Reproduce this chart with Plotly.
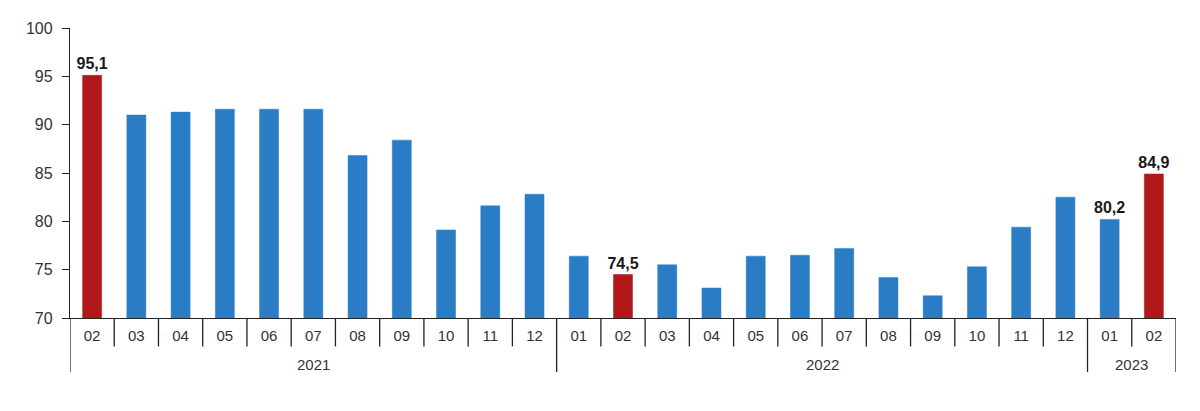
import plotly.graph_objects as go

months = ["02", "03", "04", "05", "06", "07", "08", "09", "10", "11", "12",
          "01", "02", "03", "04", "05", "06", "07", "08", "09", "10", "11", "12",
          "01", "02"]
years = ["2021"] * 11 + ["2022"] * 12 + ["2023"] * 2
values = [95.1, 91.0, 91.3, 91.6, 91.6, 91.6, 86.8, 88.4, 79.1, 81.6, 82.8,
          76.4, 74.5, 75.5, 73.1, 76.4, 76.5, 77.2, 74.2, 72.3, 75.3, 79.4, 82.5,
          80.2, 84.9]
highlight = [0, 12, 24]
labelled = [0, 12, 23, 24]
y_ticks = [70, 75, 80, 85, 90, 95, 100]

BLUE = "#2A7DC4"
RED = "#B0181A"
FONT = "Liberation Sans, Arial, sans-serif"

x = list(range(len(values)))
colors = [RED if i in highlight else BLUE for i in x]
texts = [f"{v:.1f}".replace(".", ",") if i in labelled else "" for i, v in enumerate(values)]

fig = go.Figure()
fig.add_trace(go.Bar(
    x=x, y=values, base=0,
    marker=dict(color=colors, line=dict(color=colors, width=0.5)),
    text=texts, textposition="outside", cliponaxis=False, constraintext="none",
    textfont=dict(family=FONT, size=16, color="#1a1a1a"),
    texttemplate="<b>%{text}</b>",
    width=0.43,
    hoverinfo="skip",
))

# separators
line_style = dict(color="#222222", width=1.3)
n = len(values)
for i in range(n - 1):
    if years[i] != years[i + 1]:
        continue
    fig.add_shape(type="line", xref="x", yref="paper", x0=i + 0.5, x1=i + 0.5,
                  y0=0, y1=-0.098, line=line_style)
boundaries = [-0.5] + [i + 0.5 for i in range(n - 1) if years[i] != years[i + 1]] + [n - 0.5]
for b in boundaries:
    fig.add_shape(type="line", xref="x", yref="paper", x0=b, x1=b,
                  y0=0, y1=-0.186, line=line_style)

# year labels
start = 0
for i in range(1, n + 1):
    if i == n or years[i] != years[start]:
        fig.add_annotation(x=(start + i - 1) / 2, y=-0.16, xref="x", yref="paper",
                           text=years[start], showarrow=False, yanchor="middle",
                           font=dict(family=FONT, size=15, color="#333333"))
        start = i

fig.update_layout(
    width=1200, height=411,
    margin=dict(l=62, r=32, t=14, b=101),
    plot_bgcolor="white", paper_bgcolor="white",
    showlegend=False,
    font=dict(family=FONT, color="#333333"),
)
fig.update_xaxes(
    range=[-0.5, n - 0.5], tickvals=x, ticktext=months, ticks="", showgrid=False,
    showline=True, linecolor="#222222", linewidth=1.3, zeroline=False,
    ticklabelstandoff=4,
    tickfont=dict(size=15, color="#333333"),
)
fig.update_yaxes(
    range=[70, 100], tickvals=y_ticks, showgrid=False, zeroline=False,
    showline=True, linecolor="#222222", linewidth=1.3,
    ticks="outside", ticklen=7, tickcolor="#222222", tickwidth=1.3,
    ticklabelstandoff=6,
    tickfont=dict(size=16, color="#333333"),
)

fig.write_html("out.html")
